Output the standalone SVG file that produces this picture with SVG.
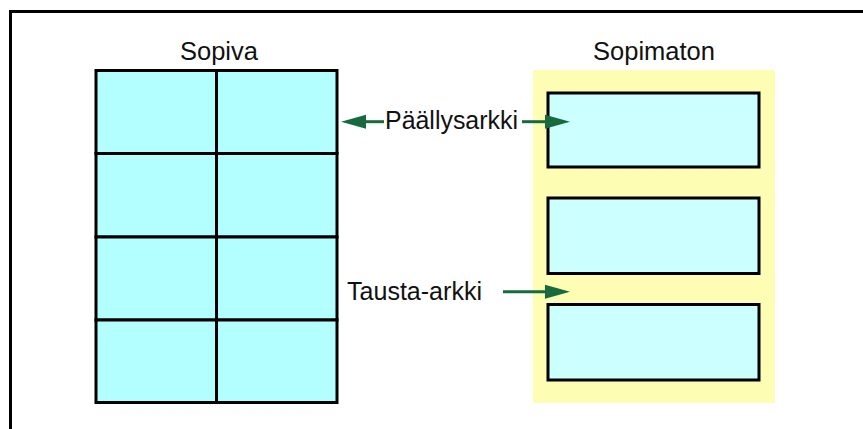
<svg xmlns="http://www.w3.org/2000/svg" width="863" height="429" viewBox="0 0 863 429">
<defs>
<style>
.lbl{font-family:"Liberation Sans",Arial,sans-serif;font-size:25.5px;fill:#111}
.cell{fill:#b3ffff;stroke:#000;stroke-width:3}
.sheet{fill:#ccffff;stroke:#000;stroke-width:3}
.conn{stroke:#176a3e;stroke-width:3;fill:none}
.head{fill:#176a3e}
</style>
</defs>
<rect x="0" y="0" width="863" height="429" fill="#fff"/>
<path d="M10.5,429 V11.5 H863" fill="none" stroke="#000" stroke-width="3"/>
<g id="sopiva">
<text class="lbl" x="219" y="60" text-anchor="middle">Sopiva</text>
<rect class="cell" x="96" y="70.5" width="120.5" height="83"/>
<rect class="cell" x="216.5" y="70.5" width="120.5" height="83"/>
<rect class="cell" x="96" y="153.5" width="120.5" height="83.5"/>
<rect class="cell" x="216.5" y="153.5" width="120.5" height="83.5"/>
<rect class="cell" x="96" y="237" width="120.5" height="83"/>
<rect class="cell" x="216.5" y="237" width="120.5" height="83"/>
<rect class="cell" x="96" y="320" width="120.5" height="82.5"/>
<rect class="cell" x="216.5" y="320" width="120.5" height="82.5"/>
</g>
<g id="sopimaton">
<text class="lbl" x="654" y="60" text-anchor="middle">Sopimaton</text>
<rect x="533" y="70" width="242" height="333" fill="#fdfdb4"/>
<rect class="sheet" x="548" y="93" width="211" height="74"/>
<rect class="sheet" x="548" y="198" width="211" height="75.5"/>
<rect class="sheet" x="548" y="304.5" width="211" height="75.5"/>
</g>
<g id="paallysarkki">
<text class="lbl" x="385" y="129" textLength="133" lengthAdjust="spacingAndGlyphs">Päällysarkki</text>
</g>
<g id="tausta-arkki">
<text class="lbl" x="347" y="300" textLength="135" lengthAdjust="spacingAndGlyphs">Tausta-arkki</text>
</g>
<g id="connectors">
<line class="conn" x1="364" y1="121.7" x2="384" y2="121.7"/>
<polygon class="head" points="341,121.7 366,114.7 366,128.7"/>
<line class="conn" x1="522" y1="121.7" x2="547" y2="121.7"/>
<polygon class="head" points="570,121.7 545,114.7 545,128.7"/>
<line class="conn" x1="503" y1="291.7" x2="547" y2="291.7"/>
<polygon class="head" points="570,291.7 545,284.7 545,298.7"/>
</g>
</svg>
